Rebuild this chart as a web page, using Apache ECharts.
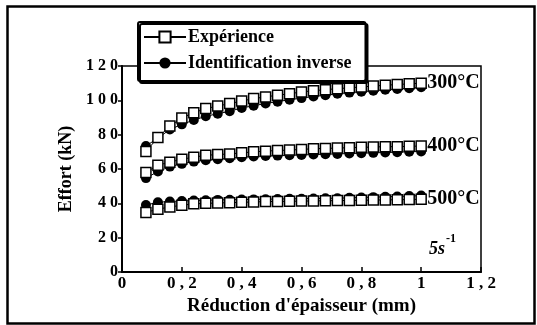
<!DOCTYPE html>
<html><head><meta charset="utf-8">
<script src="https://cdn.jsdelivr.net/npm/echarts@6/dist/echarts.min.js"></script>
<style>html,body{margin:0;padding:0;background:#fff}#c{width:537px;height:325px}</style>
</head><body><div id="c"></div>
<script>
const xValues = [0.08,0.12,0.16,0.20,0.24,0.28,0.32,0.36,0.40,0.44,0.48,0.52,0.56,0.60,0.64,0.68,0.72,0.76,0.80,0.84,0.88,0.92,0.96,1.00];
const exp300 = [70.2,78.3,85.0,89.7,92.8,95.2,96.7,98.1,99.6,101.0,102.0,103.0,103.8,104.9,105.6,106.2,106.8,107.3,107.8,108.3,108.8,109.2,109.6,110.0];
const ident300 = [73.4,78.0,83.0,86.0,88.5,90.7,92.2,93.6,95.6,96.8,98.2,99.2,100.4,101.3,102.2,103.0,103.8,104.5,105.0,105.6,106.2,106.6,107.1,107.6];
const exp400 = [58.0,62.2,64.0,65.7,66.9,68.0,68.4,68.8,69.4,70.0,70.4,70.8,71.0,71.4,71.8,72.0,72.2,72.4,72.6,72.8,73.0,73.0,73.2,73.4];
const ident400 = [54.7,58.5,61.4,63.0,64.3,65.1,65.7,66.3,66.9,67.3,67.6,67.8,68.0,68.2,68.4,68.6,68.8,69.0,69.2,69.4,69.6,69.8,70.0,70.2];
const exp500 = [34.7,36.6,37.9,38.9,39.7,40.0,40.2,40.4,40.6,40.8,41.0,41.1,41.2,41.3,41.4,41.5,41.6,41.7,41.8,41.9,42.0,42.1,42.2,42.4];
const ident500 = [39.0,40.6,41.1,41.4,41.6,41.8,42.0,42.1,42.2,42.3,42.4,42.5,42.6,42.7,42.8,42.9,43.0,43.2,43.4,43.6,43.8,44.0,44.2,44.5];
const tempLabels = ['300°C','400°C','500°C'];
const seriesNames = ['Expérience','Identification inverse'];
const xAxisTitle = "Réduction d'épaisseur (mm)";
const yAxisTitle = 'Effort (kN)';

const FONT = '"Liberation Serif", "Times New Roman", serif';
const pair = (ys) => xValues.map((x, i) => [x, ys[i]]);

function expSeries(ys, label) {
  return {
    name: seriesNames[0], type: 'line', data: pair(ys), z: 4,
    symbol: 'rect', symbolSize: 10,
    itemStyle: { color: '#fff', borderColor: '#000', borderWidth: 1.5 },
    lineStyle: { color: '#000', width: 1 },
    animation: false,
    endLabel: { show: true, formatter: label, distance: 6, color: '#000',
      fontFamily: FONT, fontWeight: 'bold', fontSize: 20 }
  };
}
function identSeries(ys) {
  return {
    name: seriesNames[1], type: 'line', data: pair(ys), z: 3,
    symbol: 'circle', symbolSize: 10,
    itemStyle: { color: '#000', borderColor: '#000', borderWidth: 0 },
    lineStyle: { color: '#000', width: 1 },
    animation: false
  };
}

const chart = echarts.init(document.getElementById('c'));
chart.setOption({
  backgroundColor: '#fff',
  animation: false,
  grid: { left: 122, right: 56, top: 66, bottom: 53, show: true, borderColor: '#000', borderWidth: 1.5 },
  legend: {
    data: seriesNames, orient: 'vertical', left: 138, top: 22,
    itemWidth: 42, itemHeight: 14, itemGap: 8,
    padding: [6, 14, 9, 5],
    backgroundColor: '#fff', borderColor: '#000', borderWidth: 2, borderRadius: 2,
    shadowColor: '#000', shadowBlur: 0, shadowOffsetX: 2, shadowOffsetY: 2,
    textStyle: { fontFamily: FONT, fontWeight: 'bold', fontSize: 18, color: '#000', padding: [0,0,0,-3] },
    z: 10
  },
  xAxis: {
    type: 'value', min: 0, max: 1.2, interval: 0.2,
    name: xAxisTitle, nameLocation: 'middle', nameGap: 17,
    nameTextStyle: { fontFamily: FONT, fontWeight: 'bold', fontSize: 19, color: '#000' },
    axisLine: { lineStyle: { color: '#000', width: 2 } },
    axisTick: { inside: true, length: 5, lineStyle: { color: '#000', width: 1.5 } },
    axisLabel: { color: '#000', fontFamily: FONT, fontWeight: 'bold', fontSize: 17, margin: 3,
      formatter: v => { const s = (Math.round(v*10)/10).toString(); return s.includes('.') ? s.replace('.', ' , ') : s; } },
    splitLine: { show: false }
  },
  yAxis: {
    type: 'value', min: 0, max: 120, interval: 20,
    name: yAxisTitle, nameLocation: 'middle', nameGap: 42, nameRotate: 90,
    nameTextStyle: { fontFamily: FONT, fontWeight: 'bold', fontSize: 18, color: '#000' },
    axisLine: { show: true, lineStyle: { color: '#000', width: 2 } },
    axisTick: { show: true, inside: false, length: 4, lineStyle: { color: '#000', width: 1.5 } },
    axisLabel: { color: '#000', fontFamily: FONT, fontWeight: 'bold', fontSize: 16, margin: 4,
      formatter: v => String(v).split('').join(' ') },
    splitLine: { show: false }
  },
  graphic: [
    { type: 'rect', left: 5, top: 4, z: -1, silent: true,
      shape: { width: 527, height: 317 }, style: { fill: 'none', stroke: '#000', lineWidth: 2.5 } },
    { type: 'text', left: 429, top: 240, z: 20,
      style: { text: '5s', fill: '#000', font: 'italic bold 18px ' + FONT } },
    { type: 'text', left: 446, top: 233, z: 20,
      style: { text: '-1', fill: '#000', font: 'bold 12px ' + FONT } }
  ],
  series: [
    identSeries(ident300), identSeries(ident400), identSeries(ident500),
    expSeries(exp300, tempLabels[0]), expSeries(exp400, tempLabels[1]), expSeries(exp500, tempLabels[2])
  ]
});
</script></body></html>
